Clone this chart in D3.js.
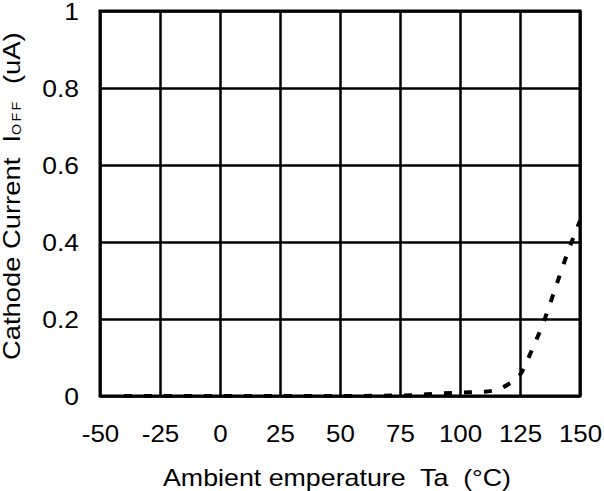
<!DOCTYPE html>
<html>
<head>
<meta charset="utf-8">
<script src="https://cdn.jsdelivr.net/npm/d3@7"></script>
<style>
  body { margin: 0; background: #fff; }
  svg text { font-family: "Liberation Sans", Arial, sans-serif; fill: #000; white-space: pre; }
</style>
</head>
<body>
<div id="chart"></div>
<script>
// values
var temps   = [-40, 0, 50, 80, 90, 100, 110, 115, 120, 125, 130, 135, 140, 145, 150];
var current = [0, 0, 0, 0.002, 0.006, 0.009, 0.011, 0.016, 0.03, 0.055, 0.12, 0.195, 0.285, 0.375, 0.455];

var xTicks = [-50, -25, 0, 25, 50, 75, 100, 125, 150];
var xTickLabels = ['-50', '-25', '0', '25', '50', '75', '100', '125', '150'];
var yTicks = [0, 0.2, 0.4, 0.6, 0.8, 1];
var yTickLabels = ['0', '0.2', '0.4', '0.6', '0.8', '1'];

var xTitle = 'Ambient emperature  Ta  (°C)';

var W = 604, H = 491;
var m = {left: 100, right: 24, top: 11, bottom: 95};
var w = W - m.left - m.right, h = H - m.top - m.bottom;

var svg = d3.select('#chart').append('svg')
  .attr('width', W).attr('height', H);

var g = svg.append('g').attr('transform', 'translate(' + m.left + ',' + m.top + ')');

var x = d3.scaleLinear().domain([-50, 150]).range([0, w]);
var y = d3.scaleLinear().domain([0, 1]).range([h, 0]);

// grid + tick labels
var xAxis = g.append('g')
  .attr('transform', 'translate(0,' + h + ')')
  .call(d3.axisBottom(x).tickValues(xTicks).tickSize(-h)
    .tickFormat(function(d, i) { return xTickLabels[i]; }));
xAxis.select('.domain').remove();
xAxis.selectAll('line').style('stroke', '#000').style('stroke-width', 2.5);
xAxis.selectAll('text')
  .attr('y', 0).attr('dy', 0)
  .attr('transform', 'translate(0,46) scale(1.08,1)')
  .style('font-size', '24px');

var yAxis = g.append('g')
  .call(d3.axisLeft(y).tickValues(yTicks).tickSize(-w)
    .tickFormat(function(d, i) { return yTickLabels[i]; }));
yAxis.select('.domain').remove();
yAxis.selectAll('line').style('stroke', '#000').style('stroke-width', 2.5);
yAxis.selectAll('text')
  .attr('x', 0).attr('dy', '0.35em')
  .attr('transform', 'translate(-21,0) scale(1.1,1)')
  .style('font-size', '24px');

// frame
g.append('rect')
  .attr('x', 0).attr('y', 0).attr('width', w).attr('height', h)
  .style('fill', 'none').style('stroke', '#000').style('stroke-width', 3);

// curve
var pts = temps.map(function(t, i) { return [t, current[i]]; });
var line = d3.line()
  .x(function(d) { return x(d[0]); })
  .y(function(d) { return y(d[1]); })
  .curve(d3.curveMonotoneX);

g.append('path')
  .datum(pts)
  .attr('d', line)
  .style('fill', 'none')
  .style('stroke', '#000')
  .style('stroke-width', 4)
  .style('stroke-dasharray', '8,12');

// axis titles (wide glyphs in the reference, hence the x-scale)
svg.append('text')
  .attr('transform', 'translate(163,486) scale(1.165,1)')
  .attr('xml:space', 'preserve')
  .style('font-size', '23px')
  .text(xTitle);

var yt = svg.append('text')
  .attr('transform', 'translate(20,360) rotate(-90) scale(1.19,1)')
  .attr('xml:space', 'preserve')
  .style('font-size', '23px');
yt.append('tspan').text('Cathode Current  I');
yt.append('tspan').text('OFF').style('font-size', '12px').style('letter-spacing', '2px').attr('dy', 1);
yt.append('tspan').text('  (uA)').attr('dy', -1);
</script>
</body>
</html>
